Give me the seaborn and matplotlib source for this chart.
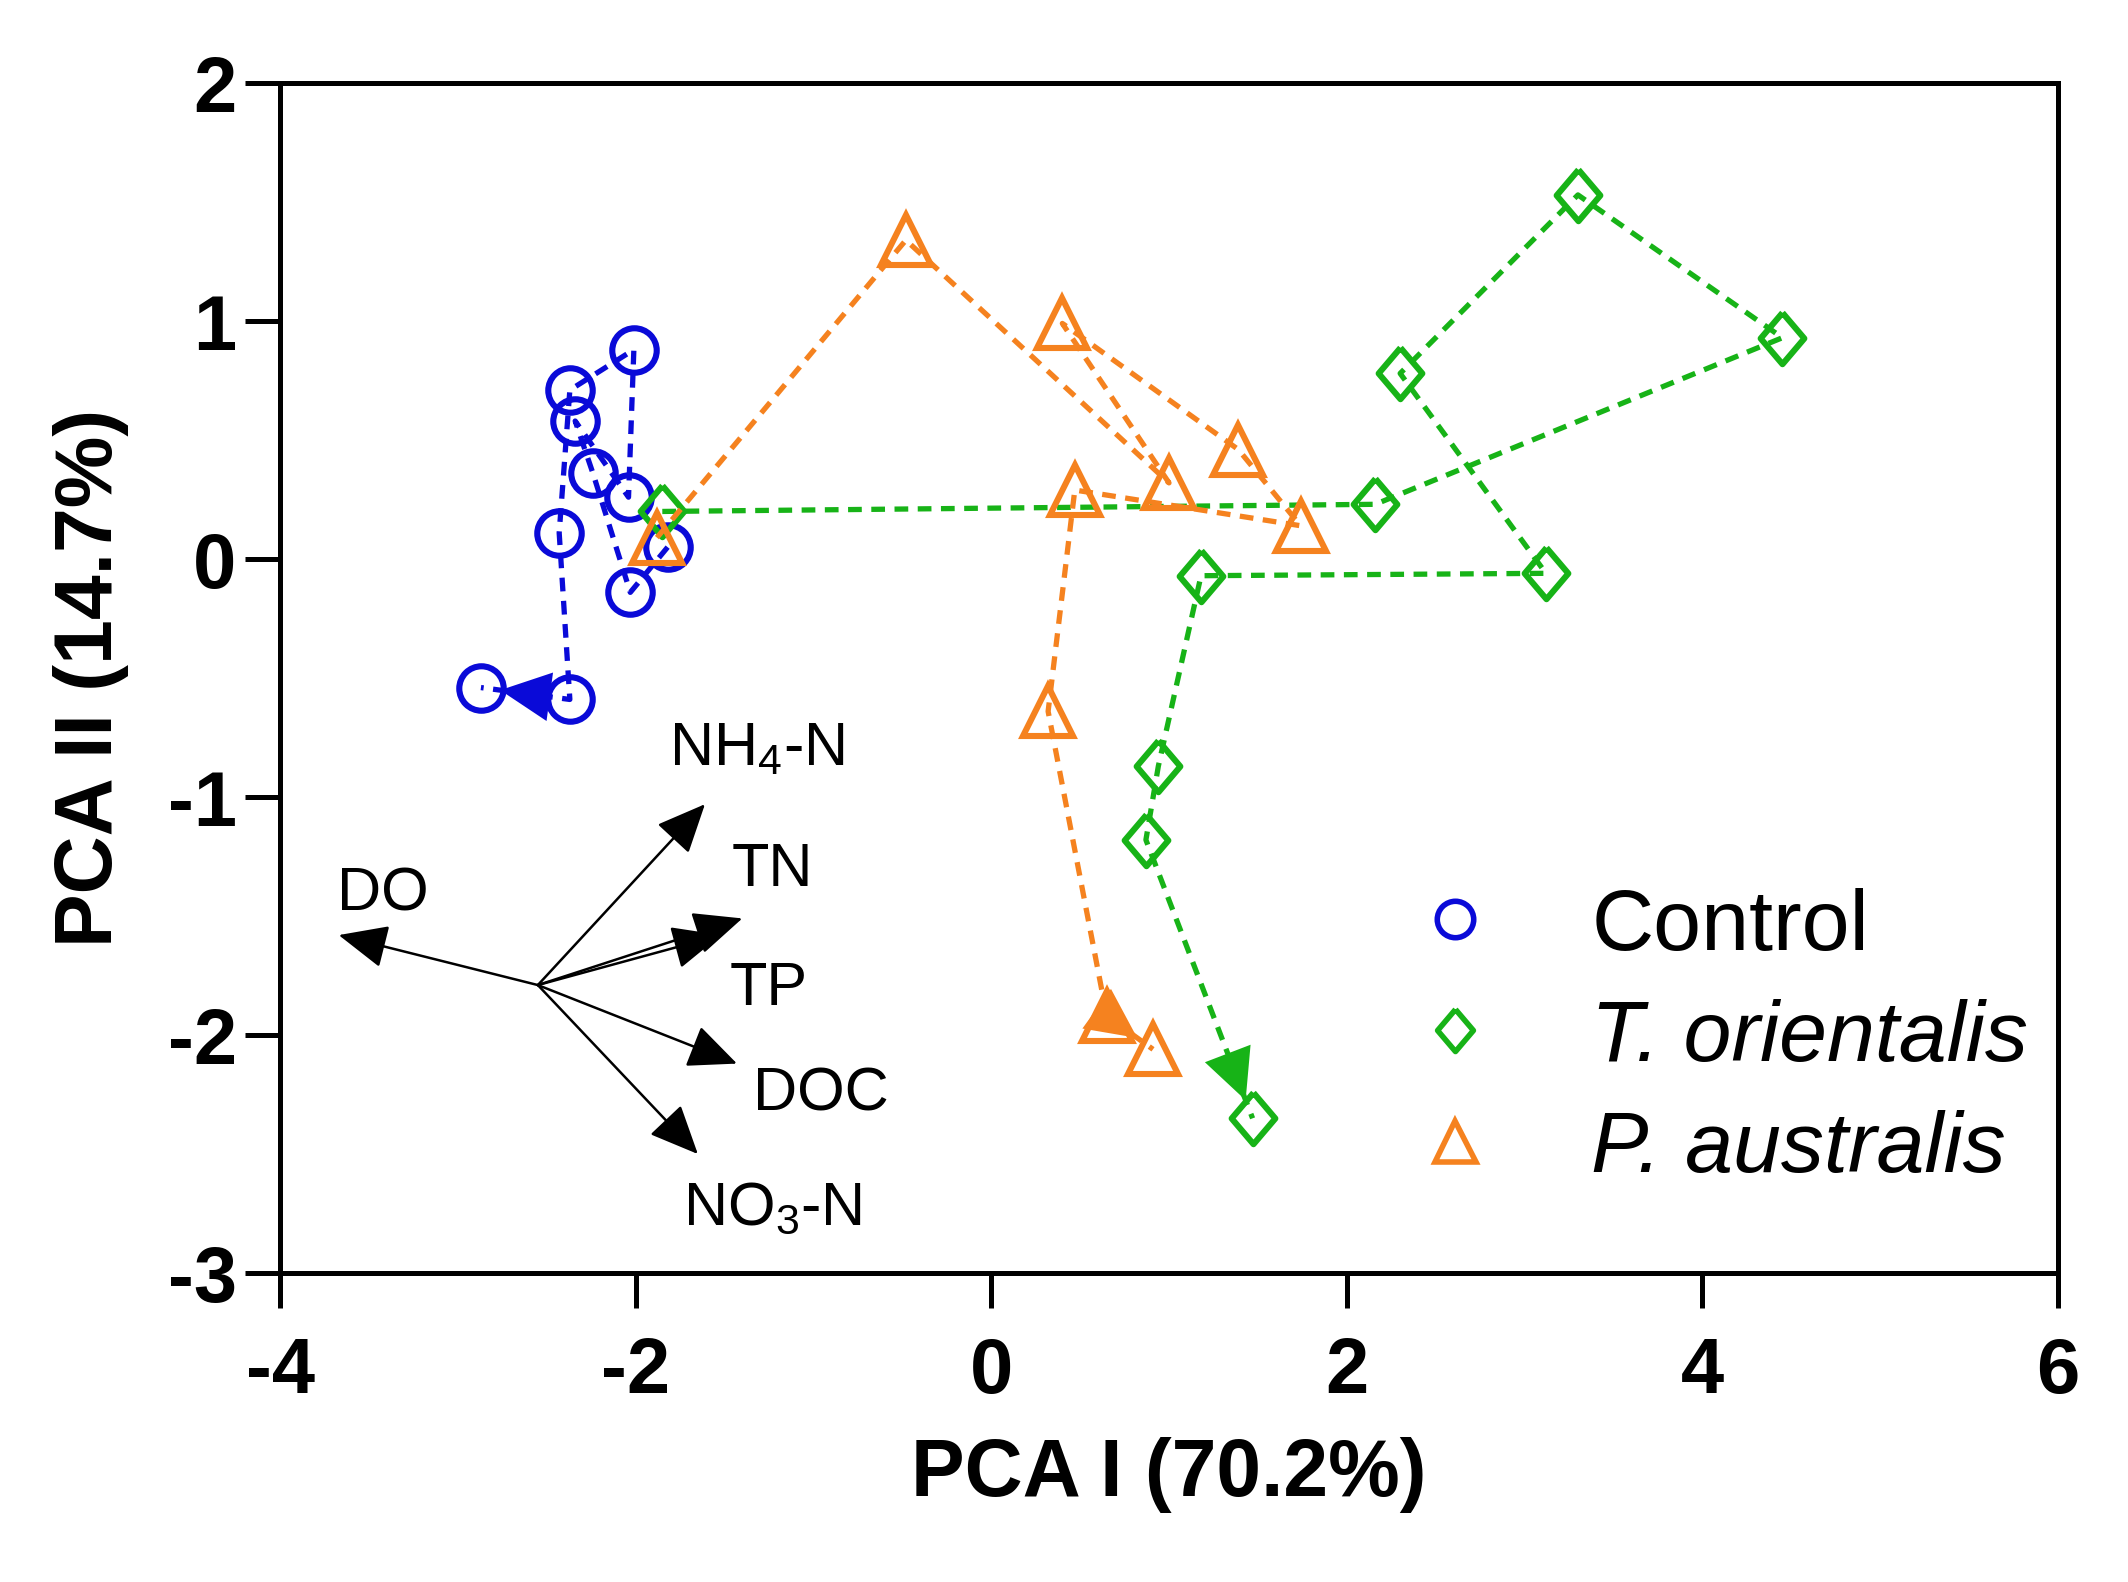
import numpy as np
import pandas as pd
import matplotlib
matplotlib.use('Agg')
import matplotlib.pyplot as plt
from matplotlib.lines import Line2D
import seaborn as sns

# PCA scores, in sampling order (first point = day 0, last point = arrow end)
ctrl_x = [-1.82, -2.03, -2.24, -2.34, -2.04, -2.01, -2.37, -2.43, -2.37, -2.87]
ctrl_y = [0.05, -0.14, 0.36, 0.58, 0.26, 0.88, 0.71, 0.11, -0.59, -0.54]
typha_x = [-1.85, 2.16, 4.45, 3.30, 2.30, 3.12, 1.18, 0.94, 0.87, 1.47]
typha_y = [0.20, 0.23, 0.93, 1.53, 0.78, -0.06, -0.07, -0.87, -1.18, -2.35]
phrag_x = [-1.88, -0.48, 1.00, 0.40, 1.39, 1.74, 0.47, 0.32, 0.65, 0.91]
phrag_y = [0.09, 1.34, 0.32, 0.99, 0.46, 0.14, 0.29, -0.64, -1.92, -2.06]

groups = ['Control', 'T. orientalis', 'P. australis']
colors = ['#0a0ad8', '#17b317', '#f5821f']

# loading vectors (water quality variables)
var_names = ['DO', 'NH$_4$-N', 'TN', 'TP', 'DOC', 'NO$_3$-N']
origin_x, origin_y = -2.55, -1.79
var_x = [-3.67, -1.61, -1.40, -1.52, -1.43, -1.65]
var_y = [-1.58, -1.03, -1.51, -1.58, -2.12, -2.50]
lab_x = [-3.42, -1.32, -1.23, -1.25, -0.96, -1.23]
lab_y = [-1.41, -0.80, -1.31, -1.81, -2.25, -2.73]

sns.set_style('ticks')
plt.rcParams['font.family'] = ['Liberation Sans', 'DejaVu Sans']
plt.rcParams['mathtext.default'] = 'regular'
plt.rcParams['axes.unicode_minus'] = False
for k in ['text.color', 'axes.labelcolor', 'xtick.color', 'ytick.color', 'axes.edgecolor']:
    plt.rcParams[k] = 'black'

df = pd.DataFrame({
    'PC1': ctrl_x + typha_x + phrag_x,
    'PC2': ctrl_y + typha_y + phrag_y,
    'group': [groups[0]] * len(ctrl_x) + [groups[1]] * len(typha_x) + [groups[2]] * len(phrag_x),
})

diamond = [(0, 1), (0.85, 0), (0, -1), (-0.85, 0), (0, 1)]
markers = ['o', diamond, '^']
msizes = [16, 18.5, 18]

fig = plt.figure(figsize=(10.64, 7.91), dpi=200)
ax = fig.add_axes([0.1316, 0.1953, 0.8355, 0.7522])

for g, c, m, ms in zip(groups, colors, markers, msizes):
    sub = df[df['group'] == g]
    sns.lineplot(data=sub, x='PC1', y='PC2', sort=False, estimator=None, ax=ax,
                 color=c, marker=m, markersize=ms, mfc='none', mec=c, mew=2.2,
                 lw=1.9, ls=(0, (2.6, 1.8)), legend=False)
    # arrow head on the last step
    xs, ys = sub['PC1'].values, sub['PC2'].values
    ax.annotate('', xy=(xs[-1], ys[-1]), xytext=(xs[-2], ys[-2]),
                arrowprops=dict(arrowstyle='-|>,head_length=0.45,head_width=0.22',
                                color=c, lw=0, shrinkA=0, shrinkB=7, mutation_scale=40))

# biplot vectors
for name, tx, ty, lx, ly in zip(var_names, var_x, var_y, lab_x, lab_y):
    ax.annotate('', xy=(tx, ty), xytext=(origin_x, origin_y),
                arrowprops=dict(arrowstyle='-|>,head_length=0.45,head_width=0.2',
                                color='black', lw=0.9, shrinkA=0, shrinkB=0, mutation_scale=34))
    ax.text(lx, ly, name, ha='center', va='center', fontsize=22)

ax.set_xlim(-4, 6)
ax.set_ylim(-3, 2)
ax.set_xticks(np.arange(-4, 7, 2))
ax.set_yticks(np.arange(-3, 3, 1))
for sp in ax.spines.values():
    sp.set_linewidth(1.8)
ax.tick_params(direction='out', length=12.6, width=1.8, labelsize=28)
ax.tick_params(axis='x', pad=10)
ax.tick_params(axis='y', pad=3)
for lbl in ax.get_xticklabels() + ax.get_yticklabels():
    lbl.set_fontweight('bold')

ax.set_xlabel('PCA I (70.2%)', fontsize=29, fontweight='bold', labelpad=10)
ax.set_ylabel('PCA II (14.7%)', fontsize=29, fontweight='bold', labelpad=14)

handles = [Line2D([], [], ls='none', marker=m, ms=ms * 0.82, mfc='none', mec=c, mew=2.0)
           for c, m, ms in zip(colors, markers, msizes)]
leg = ax.legend(handles, groups, loc='center left', bbox_to_anchor=(0.6367, 0.197),
                frameon=False, fontsize=31, handlelength=1.0, handletextpad=1.08,
                labelspacing=0.36, borderpad=0, borderaxespad=0)
for t in leg.get_texts()[1:]:
    t.set_style('italic')

fig.savefig('out.png', dpi=200)
